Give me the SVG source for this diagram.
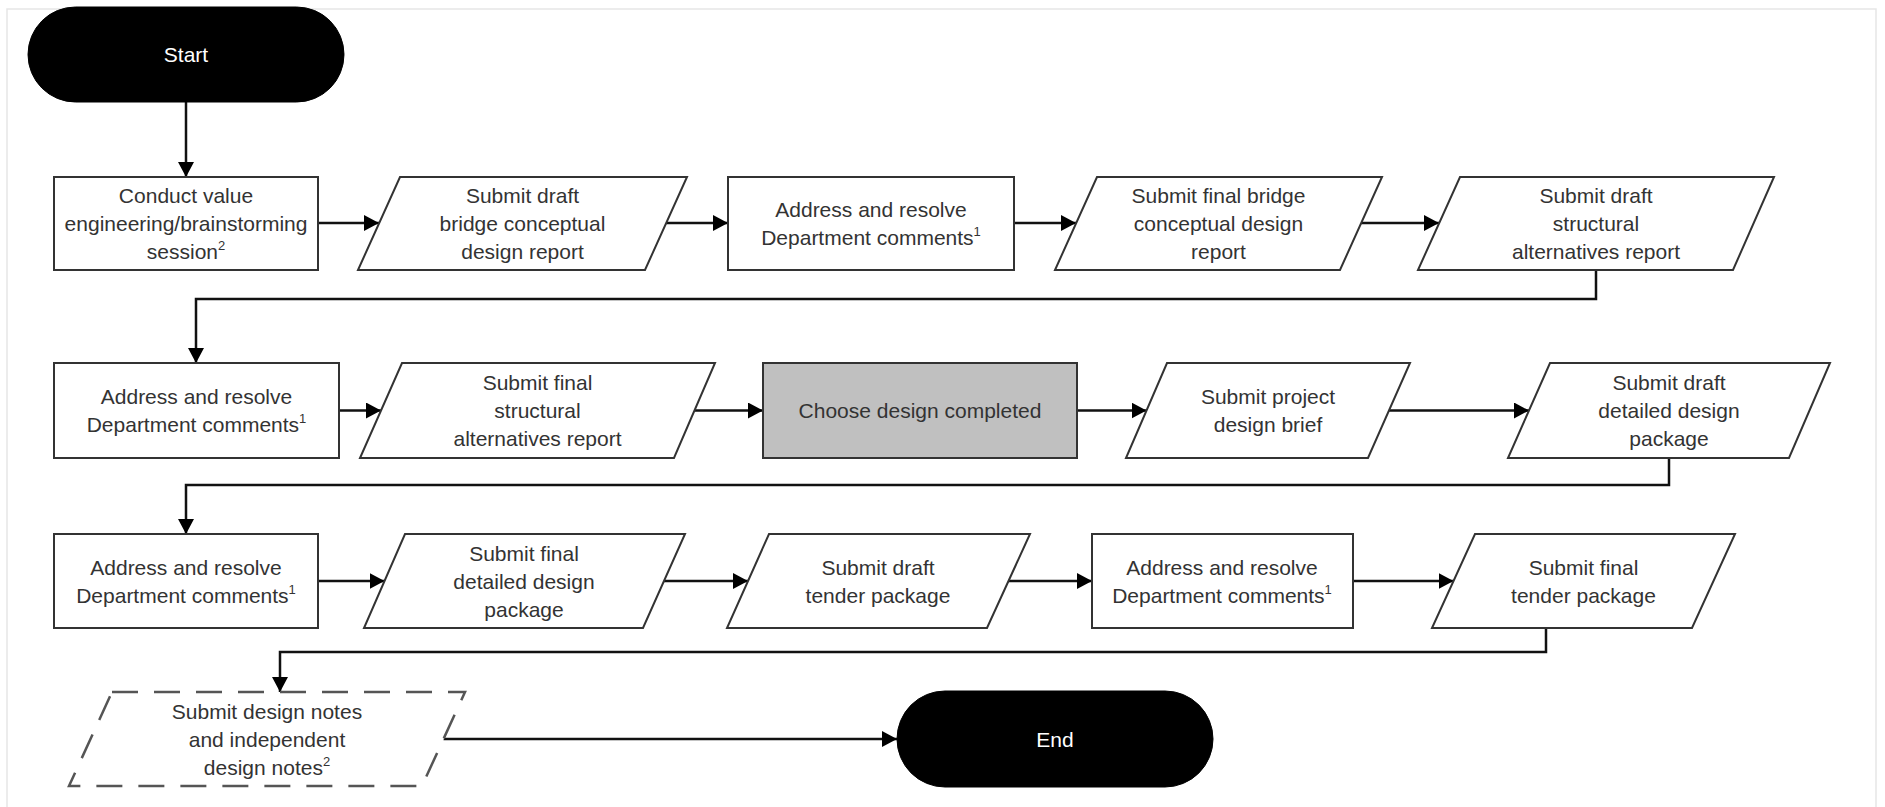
<svg xmlns="http://www.w3.org/2000/svg" width="1885" height="807" viewBox="0 0 1885 807">
<style>
.bg{fill:#fff}
.frame{fill:none;stroke:#e6e6e6;stroke-width:1.5}
.box{fill:#fff;stroke:#333;stroke-width:2}
.gray{fill:#c0c0c0;stroke:#333;stroke-width:2}
.dash{fill:#fff;stroke:#555;stroke-width:2.5;stroke-dasharray:26 16}
.pill{fill:#000;stroke:#000;stroke-width:1}
.t{font-family:"Liberation Sans",Arial,sans-serif;font-size:21px;fill:#333;text-anchor:middle}
.w{fill:#fff}
.sup{font-size:13px}
.c{fill:none;stroke:#111;stroke-width:2.5}
</style>
<defs>
<marker id="arr" markerUnits="userSpaceOnUse" markerWidth="16" markerHeight="16" refX="15" refY="8" orient="auto">
<path d="M0,0 L15,8 L0,16 z" fill="#000"/>
</marker>
</defs>
<rect class="bg" x="0" y="0" width="1885" height="807"/>
<rect class="frame" x="7" y="9" width="1869" height="830"/>

<g id="connectors">
<path class="c" d="M186,102 V177" marker-end="url(#arr)"/>
<path class="c" d="M318,223 H379" marker-end="url(#arr)"/>
<path class="c" d="M666,223 H728" marker-end="url(#arr)"/>
<path class="c" d="M1014,223 H1076" marker-end="url(#arr)"/>
<path class="c" d="M1361,223 H1439" marker-end="url(#arr)"/>
<path class="c" d="M1596,270 V299 H196 V363" marker-end="url(#arr)"/>
<path class="c" d="M339,410.5 H381" marker-end="url(#arr)"/>
<path class="c" d="M694.5,410.5 H763" marker-end="url(#arr)"/>
<path class="c" d="M1077,410.5 H1146.5" marker-end="url(#arr)"/>
<path class="c" d="M1389,410.5 H1529" marker-end="url(#arr)"/>
<path class="c" d="M1669,458 V485 H186 V534" marker-end="url(#arr)"/>
<path class="c" d="M318,581 H384.5" marker-end="url(#arr)"/>
<path class="c" d="M664,581 H748" marker-end="url(#arr)"/>
<path class="c" d="M1008.5,581 H1092" marker-end="url(#arr)"/>
<path class="c" d="M1353,581 H1453.5" marker-end="url(#arr)"/>
<path class="c" d="M1546,628 V652 H280 V692" marker-end="url(#arr)"/>
<path class="c" d="M443.5,739 H897" marker-end="url(#arr)"/>
</g>

<g id="start">
<rect class="pill" x="28" y="7" width="316" height="95" rx="47.5"/>
<text class="t w" x="186" y="62">Start</text>
</g>

<g id="n1">
<rect class="box" x="54" y="177" width="264" height="93"/>
<text class="t" x="186" y="202.5">Conduct value</text>
<text class="t" x="186" y="230.5">engineering/brainstorming</text>
<text class="t" x="186" y="258.5">session<tspan class="sup" dy="-9">2</tspan></text>
</g>

<g id="n2">
<polygon class="box" points="400,177 687,177 645,270 358,270"/>
<text class="t" x="522.5" y="202.5">Submit draft</text>
<text class="t" x="522.5" y="230.5">bridge conceptual</text>
<text class="t" x="522.5" y="258.5">design report</text>
</g>

<g id="n3">
<rect class="box" x="728" y="177" width="286" height="93"/>
<text class="t" x="871" y="216.5">Address and resolve</text>
<text class="t" x="871" y="244.5">Department comments<tspan class="sup" dy="-9">1</tspan></text>
</g>

<g id="n4">
<polygon class="box" points="1097,177 1382,177 1340,270 1055,270"/>
<text class="t" x="1218.5" y="202.5">Submit final bridge</text>
<text class="t" x="1218.5" y="230.5">conceptual design</text>
<text class="t" x="1218.5" y="258.5">report</text>
</g>

<g id="n5">
<polygon class="box" points="1460,177 1774,177 1733,270 1418,270"/>
<text class="t" x="1596" y="202.5">Submit draft</text>
<text class="t" x="1596" y="230.5">structural</text>
<text class="t" x="1596" y="258.5">alternatives report</text>
</g>

<g id="n6">
<rect class="box" x="54" y="363" width="285" height="95"/>
<text class="t" x="196.5" y="404">Address and resolve</text>
<text class="t" x="196.5" y="432">Department comments<tspan class="sup" dy="-9">1</tspan></text>
</g>

<g id="n7">
<polygon class="box" points="402,363 715,363 674,458 360,458"/>
<text class="t" x="537.5" y="390">Submit final</text>
<text class="t" x="537.5" y="418">structural</text>
<text class="t" x="537.5" y="446">alternatives report</text>
</g>

<g id="n8">
<rect class="gray" x="763" y="363" width="314" height="95"/>
<text class="t" x="920" y="418">Choose design completed</text>
</g>

<g id="n9">
<polygon class="box" points="1167,363 1410,363 1368,458 1126,458"/>
<text class="t" x="1268" y="404">Submit project</text>
<text class="t" x="1268" y="432">design brief</text>
</g>

<g id="n10">
<polygon class="box" points="1550,363 1830,363 1789,458 1508,458"/>
<text class="t" x="1669" y="390">Submit draft</text>
<text class="t" x="1669" y="418">detailed design</text>
<text class="t" x="1669" y="446">package</text>
</g>

<g id="n11">
<rect class="box" x="54" y="534" width="264" height="94"/>
<text class="t" x="186" y="574.5">Address and resolve</text>
<text class="t" x="186" y="602.5">Department comments<tspan class="sup" dy="-9">1</tspan></text>
</g>

<g id="n12">
<polygon class="box" points="405,534 685,534 643,628 364,628"/>
<text class="t" x="524" y="560.5">Submit final</text>
<text class="t" x="524" y="588.5">detailed design</text>
<text class="t" x="524" y="616.5">package</text>
</g>

<g id="n13">
<polygon class="box" points="769,534 1030,534 987,628 727,628"/>
<text class="t" x="878" y="574.5">Submit draft</text>
<text class="t" x="878" y="602.5">tender package</text>
</g>

<g id="n14">
<rect class="box" x="1092" y="534" width="261" height="94"/>
<text class="t" x="1222" y="574.5">Address and resolve</text>
<text class="t" x="1222" y="602.5">Department comments<tspan class="sup" dy="-9">1</tspan></text>
</g>

<g id="n15">
<polygon class="box" points="1475,534 1735,534 1692,628 1432,628"/>
<text class="t" x="1583.5" y="574.5">Submit final</text>
<text class="t" x="1583.5" y="602.5">tender package</text>
</g>

<g id="n16">
<polygon class="dash" points="112,692 465,692 422,786 69,786"/>
<text class="t" x="267" y="718.5">Submit design notes</text>
<text class="t" x="267" y="746.5">and independent</text>
<text class="t" x="267" y="774.5">design notes<tspan class="sup" dy="-9">2</tspan></text>
</g>

<g id="end">
<rect class="pill" x="897" y="691" width="316" height="96" rx="48"/>
<text class="t w" x="1055" y="746.5">End</text>
</g>
</svg>
